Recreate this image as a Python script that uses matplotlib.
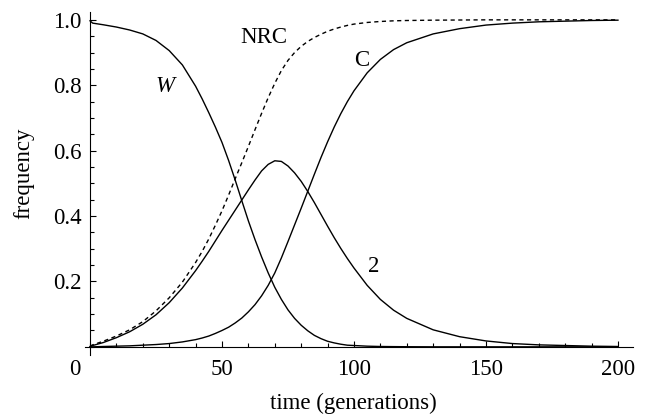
import matplotlib
matplotlib.use("Agg")
import matplotlib.pyplot as plt
from matplotlib.ticker import MultipleLocator

plt.rcParams['font.family'] = ['Liberation Serif', 'DejaVu Serif']

# time (generations)
t = [0, 1, 5, 10, 15, 20, 25, 30, 35, 40, 42.5, 45, 47.5, 50, 52.5, 55, 57.5,
     60, 62.5, 65, 67.5, 70, 72.5, 75, 77.5, 80, 82.5, 85, 87.5, 90, 92.5, 95,
     97.5, 100, 105, 110, 115, 120, 130, 140, 150, 160, 170, 180, 190, 200]

w_freq = [0.997, 0.990, 0.985, 0.978, 0.969, 0.957, 0.937, 0.906, 0.862, 0.797,
          0.758, 0.716, 0.672, 0.625, 0.570, 0.510, 0.447, 0.385, 0.328, 0.275,
          0.226, 0.182, 0.145, 0.113, 0.087, 0.066, 0.049, 0.035, 0.025, 0.017,
          0.012, 0.008, 0.005, 0.004, 0.002, 0.001, 0.0006, 0.0003, 0.0, 0.0,
          0.0, 0.0, 0.0, 0.0, 0.0, 0.0]

nrc_freq = [0.002, 0.006, 0.017, 0.033, 0.052, 0.077, 0.110, 0.150, 0.198, 0.258,
            0.292, 0.330, 0.372, 0.416, 0.464, 0.514, 0.563, 0.613, 0.664, 0.714,
            0.762, 0.806, 0.845, 0.876, 0.900, 0.919, 0.934, 0.946, 0.956, 0.965,
            0.972, 0.978, 0.983, 0.987, 0.992, 0.995, 0.997, 0.998, 0.999, 0.9995,
            1.0, 1.0, 1.0, 1.0, 1.0, 1.0]

two_freq = [0.0, 0.004, 0.013, 0.028, 0.046, 0.069, 0.098, 0.135, 0.180, 0.233,
            0.262, 0.292, 0.324, 0.356, 0.387, 0.418, 0.449, 0.480, 0.510, 0.538,
            0.558, 0.569, 0.567, 0.553, 0.532, 0.506, 0.475, 0.441, 0.405, 0.369,
            0.334, 0.301, 0.270, 0.241, 0.188, 0.145, 0.112, 0.087, 0.052, 0.031,
            0.018, 0.010, 0.006, 0.004, 0.002, 0.001]

c_freq = [0.0, 0.0, 0.001, 0.002, 0.003, 0.005, 0.007, 0.010, 0.015, 0.022,
          0.027, 0.033, 0.041, 0.050, 0.060, 0.073, 0.088, 0.107, 0.129, 0.156,
          0.188, 0.226, 0.272, 0.322, 0.373, 0.424, 0.476, 0.528, 0.579, 0.627,
          0.672, 0.713, 0.750, 0.783, 0.838, 0.879, 0.909, 0.930, 0.957, 0.973,
          0.984, 0.990, 0.994, 0.996, 0.998, 0.999]

x_major = [50, 100, 150, 200]
y_major = [0.2, 0.4, 0.6, 0.8, 1.0]
y_labels = ["0.2", "0.4", "0.6", "0.8", "1.0"]

W, H = 648, 417
fig = plt.figure(figsize=(W / 100, H / 100), dpi=100)
ax = fig.add_axes([85 / W, (H - 355) / H, 548 / W, 343 / H])
ax.set_xlim(-1.9, 205.7)
ax.set_ylim(-0.025, 1.024)

lw = 1.0
ax.plot(t, w_freq, color='black', lw=lw)
ax.plot(t, two_freq, color='black', lw=lw)
ax.plot(t, c_freq, color='black', lw=lw)
ax.plot(t, nrc_freq, color='black', lw=lw, dashes=(3, 2.5))

for side in ['top', 'right']:
    ax.spines[side].set_visible(False)
ax.spines['left'].set_position(('data', 0))
ax.spines['bottom'].set_position(('data', 0))
for side in ['left', 'bottom']:
    ax.spines[side].set_linewidth(0.8)

fs = 16.5
xpad = 8.5
ax.set_xticks(x_major)
ax.set_xticklabels([str(v) for v in x_major])
ax.xaxis.set_minor_locator(MultipleLocator(10))
ax.set_yticks(y_major)
ax.set_yticklabels(y_labels)
ax.yaxis.set_minor_locator(MultipleLocator(0.05))
ax.tick_params(which='major', direction='in', length=4.5, width=0.8,
               labelsize=fs, pad=6)
ax.tick_params(which='minor', direction='in', length=2.6, width=0.8)
ax.tick_params(axis='x', which='major', pad=xpad)

# origin label, shifted left of the axis crossing
ax.annotate("0", xy=(0, 0), xycoords='data', xytext=(-10.8, -xpad),
            textcoords='offset points', fontsize=fs, ha='center', va='top',
            annotation_clip=False)

ax.text(28.3, 0.797, "W", fontsize=fs, style='italic', ha='center', va='center')
ax.text(65.8, 0.945, "NRC", fontsize=fs, ha='center', va='center')
ax.text(102.9, 0.877, "C", fontsize=fs, ha='center', va='center')
ax.text(107.3, 0.245, "2", fontsize=fs, ha='center', va='center')

fig.text(353 / W, 1 - 403 / H, "time (generations)", fontsize=fs,
         ha='center', va='center')
fig.text(24 / W, 1 - 173 / H, "frequency", fontsize=fs, rotation=90,
         ha='center', va='center')

fig.savefig("out.png", dpi=100)
